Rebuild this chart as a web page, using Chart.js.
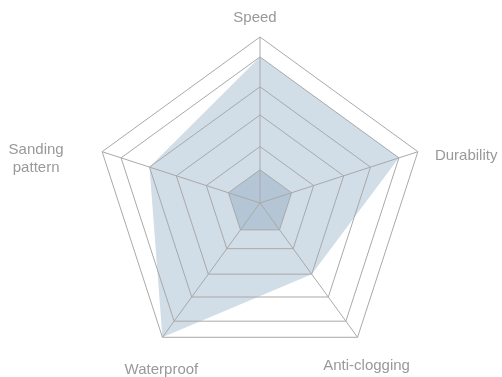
<!DOCTYPE html>
<html>
<head>
<meta charset="utf-8">
<script src="https://cdn.jsdelivr.net/npm/chart.js@4/dist/chart.umd.min.js"></script>
<style>
  html, body { margin: 0; padding: 0; background: #fff; }
  #wrap { width: 502px; height: 377px; }
</style>
</head>
<body>
<div id="wrap"><canvas id="radarChart"></canvas></div>
<script>
// axes, clockwise from the top
const categories = ['Speed', 'Durability', 'Anti-clogging', 'Waterproof', ['Sanding', 'pattern']];
// main series (light fill)
const scores = [88, 88, 53, 100, 70];
// inner core (darker fill)
const core = [20, 20, 20, 20, 20];
// grid rings (not evenly spaced in the picture)
const ringLevels = [0, 20, 34, 53, 70, 88, 100];

const ctx = document.getElementById('radarChart');

// hand placed axis labels, offsets from each outer vertex
const labelOffsets = [
  {dx: -5, dy: -19, align: 'center'},
  {dx: 17, dy: 4, align: 'left'},
  {dx: 9, dy: 29, align: 'center'},
  {dx: -1, dy: 33, align: 'center'},
  {dx: -66, dy: -2, align: 'center'}
];

const axisLabels = {
  id: 'axisLabels',
  afterDraw(chart) {
    const s = chart.scales.r;
    const c = chart.ctx;
    c.save();
    c.font = '15px "Liberation Sans", Arial, sans-serif';
    c.fillStyle = '#999';
    c.textBaseline = 'middle';
    categories.forEach((lab, i) => {
      const p = s.getPointPosition(i, s.drawingArea);
      const o = labelOffsets[i];
      c.textAlign = o.align;
      const lines = Array.isArray(lab) ? lab : [lab];
      lines.forEach((t, k) => c.fillText(t, p.x + o.dx, p.y + o.dy + k * 18));
    });
    c.restore();
  }
};

new Chart(ctx, {
  type: 'radar',
  data: {
    labels: categories,
    datasets: [{
      data: core,
      backgroundColor: '#b4c6d5',
      borderWidth: 0,
      pointRadius: 0,
      fill: true,
      order: 0
    }, {
      data: scores,
      backgroundColor: '#d1dde7',
      borderWidth: 0,
      pointRadius: 0,
      fill: true,
      order: 1
    }]
  },
  options: {
    responsive: true,
    maintainAspectRatio: false,
    animation: false,
    layout: {
      padding: {left: 60, right: 42, top: 37, bottom: 8}
    },
    plugins: {
      legend: {display: false},
      tooltip: {enabled: false}
    },
    scales: {
      r: {
        min: 0,
        max: 100,
        afterBuildTicks: (scale) => {
          scale.ticks = ringLevels.map(v => ({value: v}));
        },
        ticks: {display: false},
        pointLabels: {display: false},
        grid: {color: '#a9a9a9', lineWidth: 1, z: 1},
        angleLines: {color: '#a9a9a9', lineWidth: 1}
      }
    }
  },
  plugins: [axisLabels]
});
</script>
</body>
</html>
